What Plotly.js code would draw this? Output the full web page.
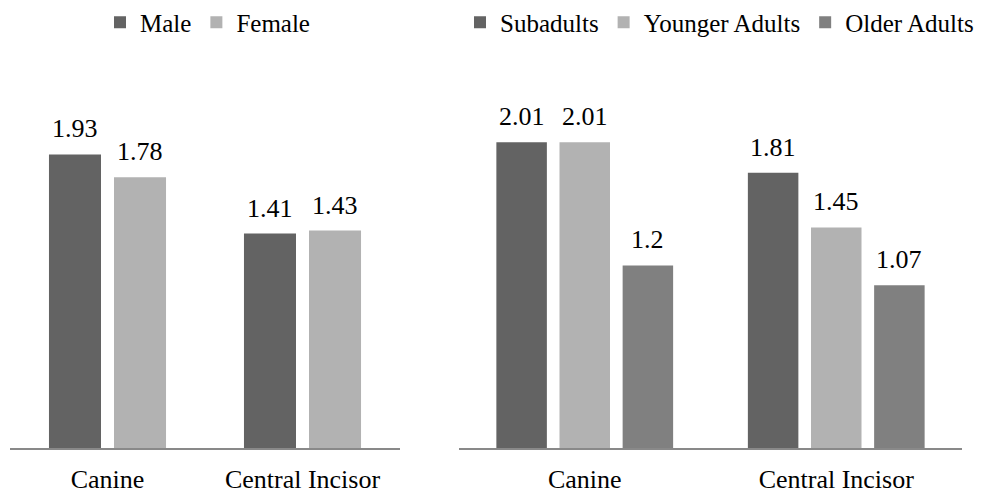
<!DOCTYPE html>
<html><head><meta charset="utf-8">
<script src="https://cdn.plot.ly/plotly-3.0.1.min.js"></script>
<style>html,body{margin:0;padding:0;background:#fff}#chart{width:982px;height:493px}</style>
</head><body><div id="chart"></div>
<script>
const categories = ['Canine', 'Central Incisor'];
const sexNames = ['Male', 'Female'];
const maleValues = [1.93, 1.41];
const femaleValues = [1.78, 1.43];
const ageNames = ['Subadults', 'Younger Adults', 'Older Adults'];
const subadultValues = [2.01, 1.81];
const youngerAdultValues = [2.01, 1.45];
const olderAdultValues = [1.2, 1.07];

const FONT = 'Liberation Serif, Times New Roman, serif';
const DARK = '#636363', LIGHT = '#b2b2b2', MID = '#808080';
const W = 982, H = 493;

// bar slot geometry within a category (like bargap / bargroupgap)
function slots(n, bargap, groupgap) {
  const slot = (1 - bargap) / n;
  const w = slot * (1 - groupgap);
  return Array.from({length: n}, (_, j) => ({offset: -(1 - bargap) / 2 + slot * j + (slot - w) / 2, width: w}));
}
const leftGeo = slots(2, 0.333, 0.2);
const rightGeo = slots(3, 0.247, 0.2);

const traces = [];
const annotations = [];
function addBar(name, vals, color, geo, xa, ya, leg) {
  traces.push({type: 'bar', name: name, x: categories, y: vals,
    marker: {color: color, line: {width: 0}}, offset: geo.offset, width: geo.width,
    xaxis: xa, yaxis: ya, legend: leg, hoverinfo: 'skip'});
  vals.forEach((v, i) => {
    annotations.push({xref: xa, yref: ya, x: i + geo.offset + geo.width / 2, y: v,
      text: String(v), showarrow: false, xanchor: 'center', yanchor: 'middle', yshift: 25.5,
      font: {family: FONT, size: 26, color: '#000'}});
  });
}
addBar(sexNames[0], maleValues, DARK, leftGeo[0], 'x', 'y', 'legend');
addBar(sexNames[1], femaleValues, LIGHT, leftGeo[1], 'x', 'y', 'legend');
addBar(ageNames[0], subadultValues, DARK, rightGeo[0], 'x2', 'y2', 'legend2');
addBar(ageNames[1], youngerAdultValues, LIGHT, rightGeo[1], 'x2', 'y2', 'legend2');
addBar(ageNames[2], olderAdultValues, MID, rightGeo[2], 'x2', 'y2', 'legend2');

const xBase = {type: 'category', range: [-0.5, 1.5], showline: true, linecolor: '#898989', linewidth: 1.5,
  ticks: '', showgrid: false, zeroline: false, fixedrange: true, ticklabelstandoff: 7,
  tickfont: {family: FONT, size: 26, color: '#000'}};
const yBase = {range: [0, 2.551], visible: false, fixedrange: true};
const legBase = {orientation: 'h', xref: 'container', yref: 'container', xanchor: 'left', yanchor: 'middle',
  y: 1 - 22.5 / H, font: {family: FONT, size: 25, color: '#000'}, bgcolor: 'rgba(0,0,0,0)', traceorder: 'normal'};

const layout = {
  width: W, height: H, margin: {l: 0, r: 0, t: 60, b: 45},
  paper_bgcolor: '#fff', plot_bgcolor: 'rgba(0,0,0,0)', barmode: 'overlay',
  font: {family: FONT, size: 26, color: '#000'}, showlegend: true,
  xaxis: Object.assign({}, xBase, {domain: [10 / W, 400 / W], anchor: 'y'}),
  yaxis: Object.assign({}, yBase, {anchor: 'x'}),
  xaxis2: Object.assign({}, xBase, {domain: [459 / W, 962 / W], anchor: 'y2'}),
  yaxis2: Object.assign({}, yBase, {anchor: 'x2'}),
  legend: Object.assign({}, legBase, {x: 100 / W}),
  legend2: Object.assign({}, legBase, {x: 460 / W}),
  annotations: annotations
};
Plotly.newPlot('chart', traces, layout, {staticPlot: true, displayModeBar: false});
</script></body></html>
